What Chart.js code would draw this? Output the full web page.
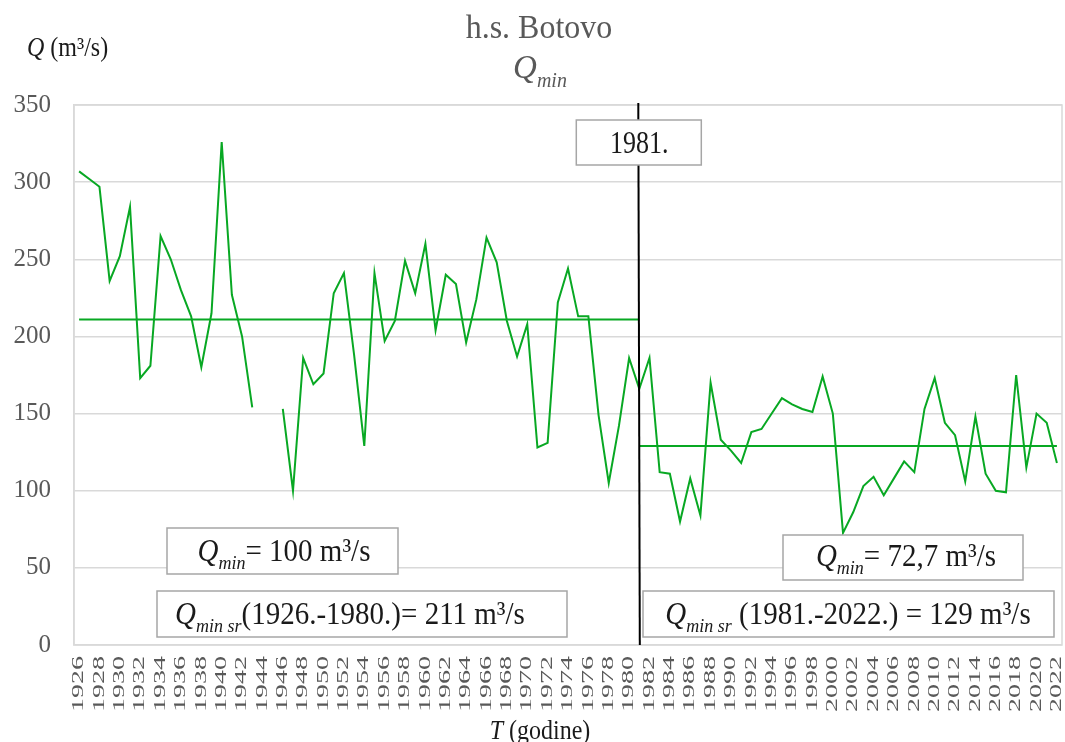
<!DOCTYPE html>
<html><head><meta charset="utf-8">
<script src="https://cdn.jsdelivr.net/npm/chart.js@4.4.0/dist/chart.umd.min.js"></script>
<style>html,body{margin:0;padding:0;background:#fff;}</style>
</head><body>
<canvas id="c" width="1065" height="742"></canvas>
<script>
const years = [1926,1927,1928,1929,1930,1931,1932,1933,1934,1935,1936,1937,1938,1939,1940,1941,1942,1943,1944,1945,
1946,1947,1948,1949,1950,1951,1952,1953,1954,1955,1956,1957,1958,1959,1960,1961,1962,1963,1964,1965,
1966,1967,1968,1969,1970,1971,1972,1973,1974,1975,1976,1977,1978,1979,1980,1981,1982,1983,1984,1985,
1986,1987,1988,1989,1990,1991,1992,1993,1994,1995,1996,1997,1998,1999,2000,2001,2002,2003,2004,2005,
2006,2007,2008,2009,2010,2011,2012,2013,2014,2015,2016,2017,2018,2019,2020,2021,2022];
const qmin = [307,302,297,236,252,284,173,181,265,250,230,213,180,215,326,227,200,154,null,null,
153,100,186,169,176,228,241,188,129,241,197,210,249,228,260,204,240,234,196,224,
264,248,210,187,208,128,131,222,244,213,213,149,105,142,186,166,186,112,111,80,
108,84,170,133,126,118,138,140,150,160,156,153,151,174,150,72.7,86,103,109,97,
108,119,112,153,173,144,136,106,148,111,100,99,175,115,150,144,118];
const meanBefore = 211;   // 1926.-1980.
const meanAfter = 129;    // 1981.-2022.
const splitYear = 1981;
const yTicks = [0,50,100,150,200,250,300,350];
const xTickLabels = ['1926','1928','1930','1932','1934','1936','1938','1940','1942','1944','1946','1948','1950','1952','1954','1956','1958','1960','1962','1964','1966','1968','1970','1972','1974','1976','1978','1980','1982','1984','1986','1988','1990','1992','1994','1996','1998','2000','2002','2004','2006','2008','2010','2012','2014','2016','2018','2020','2022'];

const FONT = '"Liberation Serif", "Times New Roman", serif';
const GREEN = '#08a823';

function rich(ctx, parts, x, y, size, align, color, sy) {
  const fontOf = p => (p.i ? 'italic ' : '') + (p.s ? Math.round(size*0.62) : size) + 'px ' + FONT;
  let w = 0;
  parts.forEach(p => { ctx.font = fontOf(p); p.w = ctx.measureText(p.t).width; w += p.w; });
  let sx = align === 'center' ? x - w/2 : (align === 'right' ? x - w : x);
  ctx.save();
  ctx.translate(sx, y);
  ctx.scale(1, sy || 1);
  ctx.fillStyle = color;
  ctx.textBaseline = 'alphabetic';
  ctx.textAlign = 'left';
  let dx = 0;
  parts.forEach(p => {
    ctx.font = fontOf(p);
    ctx.fillText(p.t, dx, p.s ? size*0.25 : 0);
    dx += p.w;
  });
  ctx.restore();
}

function box(ctx, x1, y1, x2, y2) {
  ctx.save();
  ctx.fillStyle = '#ffffff';
  ctx.fillRect(x1, y1, x2-x1, y2-y1);
  ctx.strokeStyle = '#a6a6a6';
  ctx.lineWidth = 1.5;
  ctx.strokeRect(x1, y1, x2-x1, y2-y1);
  ctx.restore();
}

const overlay = {
  id: 'overlay',
  afterDatasetsDraw(chart) {
    const ctx = chart.ctx, ca = chart.chartArea;
    const xs = chart.scales.x;
    ctx.save();
    ctx.strokeStyle = '#d9d9d9'; ctx.lineWidth = 1.5;
    ctx.strokeRect(ca.left, ca.top, ca.right-ca.left, ca.bottom-ca.top);
    ctx.restore();
    const vx = xs.getPixelForValue(years.indexOf(splitYear));
    ctx.save();
    ctx.strokeStyle = '#000000'; ctx.lineWidth = 2;
    ctx.beginPath(); ctx.moveTo(vx-1, ca.top-2); ctx.lineTo(vx+0.5, ca.bottom); ctx.stroke();
    ctx.restore();
    box(ctx, vx-63, 120, vx+62, 165);
    rich(ctx, [{t:'1981.'}], vx, 153, 26, 'center', '#1a1a1a', 1.25);
    box(ctx, 167, 528, 398, 574);
    rich(ctx, [{t:'Q',i:1},{t:'min',i:1,s:1},{t:'= 100 m³/s'}], 284, 561, 29, 'center', '#1a1a1a', 1.08);
    box(ctx, 157, 591, 567, 637);
    rich(ctx, [{t:'Q',i:1},{t:'min sr',i:1,s:1},{t:'(1926.-1980.)= 211 m³/s'}], 350, 624, 29, 'center', '#1a1a1a', 1.08);
    box(ctx, 783, 535, 1023, 580);
    rich(ctx, [{t:'Q',i:1},{t:'min',i:1,s:1},{t:'= 72,7 m³/s'}], 906, 566, 29, 'center', '#1a1a1a', 1.08);
    box(ctx, 643, 591, 1054, 637);
    rich(ctx, [{t:'Q',i:1},{t:'min sr',i:1,s:1},{t:' (1981.-2022.) = 129 m³/s'}], 848, 624, 29, 'center', '#1a1a1a', 1.08);
    ctx.save();
    ctx.fillStyle = '#595959';
    ctx.font = '16px ' + FONT;
    xTickLabels.forEach(lbl => {
      const px = xs.getPixelForValue(years.indexOf(+lbl));
      ctx.save();
      ctx.translate(px, ca.bottom + 11);
      ctx.rotate(-Math.PI/2);
      ctx.scale(1.75, 1);
      ctx.textAlign = 'right';
      ctx.textBaseline = 'middle';
      ctx.fillText(lbl, 0, 0);
      ctx.restore();
    });
    ctx.restore();
    rich(ctx, [{t:'h.s. Botovo'}], 539, 38, 32, 'center', '#595959', 1.05);
    rich(ctx, [{t:'Q',i:1},{t:'min',i:1,s:1}], 540, 78, 33, 'center', '#595959', 1.05);
    rich(ctx, [{t:'Q',i:1},{t:' (m³/s)'}], 27, 56, 24, 'left', '#1a1a1a', 1.1);
    rich(ctx, [{t:'T',i:1},{t:' (godine)'}], 540, 739, 24, 'center', '#1a1a1a', 1.1);
  }
};

new Chart(document.getElementById('c'), {
  type: 'line',
  data: {
    labels: years.map(String),
    datasets: [
      { label: 'Qsr1', data: years.map(y => y <= splitYear ? meanBefore : null), borderColor: GREEN, borderWidth: 2, pointRadius: 0, spanGaps: false },
      { label: 'Qsr2', data: years.map(y => y >= splitYear ? meanAfter : null), borderColor: GREEN, borderWidth: 2, pointRadius: 0, spanGaps: false },
      { label: 'Qmin', data: qmin, borderColor: GREEN, borderWidth: 2, pointRadius: 0, spanGaps: false, tension: 0 }
    ]
  },
  options: {
    responsive: false,
    animation: false,
    devicePixelRatio: 1,
    layout: { padding: { top: 105, right: 3, left: 0, bottom: 0 } },
    plugins: { legend: { display: false }, tooltip: { enabled: false }, title: { display: false } },
    scales: {
      x: {
        type: 'category', offset: true,
        grid: { display: false }, border: { display: false },
        ticks: { display: false },
        afterFit: s => { s.height = 97; }
      },
      y: {
        min: 0, max: 350,
        afterBuildTicks: s => { s.ticks = yTicks.map(v => ({ value: v })); },
        ticks: { font: { family: FONT, size: 25 }, color: '#595959', padding: 23 },
        grid: { color: '#d9d9d9', lineWidth: 1.5, drawTicks: false },
        border: { display: true, color: '#d9d9d9', width: 1.5 },
        afterFit: s => { s.width = 74; }
      }
    }
  },
  plugins: [overlay]
});
</script>
</body></html>
